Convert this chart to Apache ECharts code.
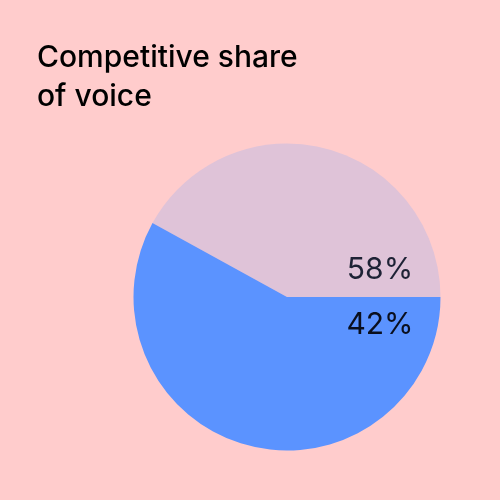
<!DOCTYPE html>
<html>
<head>
<meta charset="utf-8">
<script src="https://cdn.jsdelivr.net/npm/echarts@6/dist/echarts.min.js"></script>
<style>
html,body{margin:0;padding:0;background:#FFCCCC;}
#chart{width:500px;height:500px;}
</style>
</head>
<body>
<div id="chart"></div>
<script>
// Data
const categories = ['Competitor', 'Us'];
const values = [42, 58];
const colors = ['#DFC3D8', '#5B93FF'];
const labelTexts = ['58%', '42%']; // as printed in the reference (upper, lower)

const chart = echarts.init(document.getElementById('chart'), null, {renderer: 'canvas'});
const option = {
  backgroundColor: '#FFCCCC',
  animation: false,
  title: {
    text: 'Competitive share\nof voice',
    left: 37,
    top: 38,
    padding: 0,
    textStyle: {
      fontFamily: 'Inter',
      fontWeight: 500,
      fontSize: 30,
      lineHeight: 39,
      color: '#000000'
    }
  },
  series: [{
    type: 'pie',
    center: [287, 297],
    radius: 153.5,
    startAngle: 0,
    clockwise: false,
    label: {show: false},
    labelLine: {show: false},
    itemStyle: {borderWidth: 0},
    emphasis: {disabled: true},
    data: categories.map((c, i) => ({name: c, value: values[i], itemStyle: {color: colors[i]}}))
  }],
  graphic: [
    {type: 'text', z: 100, x: 380, y: 270, style: {text: labelTexts[0], font: '400 30px Inter', fill: '#1E2235', textAlign: 'center', textVerticalAlign: 'middle'}},
    {type: 'text', z: 100, x: 380, y: 325, style: {text: labelTexts[1], font: '400 30px Inter', fill: '#0A0F1E', textAlign: 'center', textVerticalAlign: 'middle'}}
  ]
};
chart.setOption(option);
</script>
</body>
</html>
